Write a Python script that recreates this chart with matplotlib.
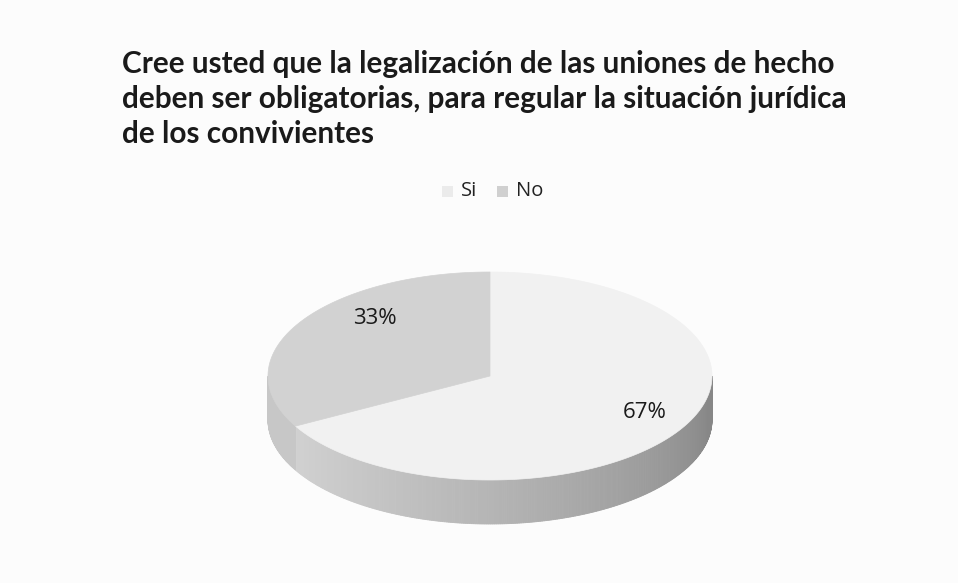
import numpy as np
import matplotlib
matplotlib.use("Agg")
import matplotlib.pyplot as plt
from matplotlib.patches import Polygon, Rectangle

title_lines = ["Cree usted que la legalización de las uniones de hecho",
               "deben ser obligatorias, para regular la situación jurídica",
               "de los convivientes"]
categories = ["Si", "No"]
values = [67, 33]
top_colors = ["#f1f1f1", "#d2d2d2"]
legend_colors = ["#ebebeb", "#d0d0d0"]

W, H = 958, 583
fig = plt.figure(figsize=(W / 100, H / 100), dpi=100)
fig.patch.set_facecolor("#fcfcfc")
ax = fig.add_axes([0, 0, 1, 1])
ax.set_xlim(0, W)
ax.set_ylim(H, 0)
ax.axis("off")

# pie geometry (pixel space)
cx, cy, rx, ry, depth = 490, 376, 222, 104, 44

def pt(theta_deg, dy=0):
    t = np.radians(theta_deg)
    return cx + rx * np.cos(t), cy - ry * np.sin(t) + dy

# slice angles: first slice clockwise from 12 o'clock
total = sum(values)
spans = [v / total * 360 for v in values]
bounds = []
a = 90.0
for s in spans:
    bounds.append((a - s, a))
    a -= s

def side_color(theta, idx):
    if idx == 1:
        g = 0.78
    else:
        f = np.clip((theta - 200) / 150, 0, 1)
        g = 0.83 - 0.30 * f ** 1.2
    return (g, g, g)

for idx, (a0, a1) in enumerate(bounds):
    for base in (-360, 0, 360):
        lo, hi = max(a0 + base, 180), min(a1 + base, 360)
        if hi <= lo:
            continue
        ths = np.linspace(lo, hi, int((hi - lo) * 2) + 2)
        for t0, t1 in zip(ths[:-1], ths[1:]):
            p0, p1 = pt(t0), pt(t1)
            q1, q0 = pt(t1, depth), pt(t0, depth)
            col = side_color((t0 + t1) / 2, idx)
            ax.add_patch(Polygon([p0, p1, q1, q0], closed=True,
                                 facecolor=col, edgecolor=col, linewidth=0.6))

# top faces
for idx, (a0, a1) in enumerate(bounds):
    ths = np.linspace(a0, a1, 200)
    pts = [(cx, cy)] + [pt(t) for t in ths]
    ax.add_patch(Polygon(pts, closed=True, facecolor=top_colors[idx],
                         edgecolor=top_colors[idx], linewidth=0.5))

# data labels
label_pos = [(645, 412), (375, 319)]
for v, (lx, ly) in zip(values, label_pos):
    ax.text(lx, ly, f"{v}%", fontsize=16, family="Open Sans",
            ha="center", va="center", color="#1a1a1a")

# legend
leg_x = [442, 497]
for i, c in enumerate(categories):
    ax.add_patch(Rectangle((leg_x[i], 186), 11, 11, facecolor=legend_colors[i],
                           edgecolor="none"))
    ax.text(leg_x[i] + 19, 191, c, fontsize=14.5, family="Open Sans",
            ha="left", va="center", color="#222222")

# title
for i, line in enumerate(title_lines):
    ax.text(122, 64 + 35 * i, line, fontsize=21.4, family="Lato",
            fontweight="bold", ha="left", va="center", color="#1a1a1a")

fig.savefig("out.png", dpi=100, facecolor=fig.get_facecolor())
